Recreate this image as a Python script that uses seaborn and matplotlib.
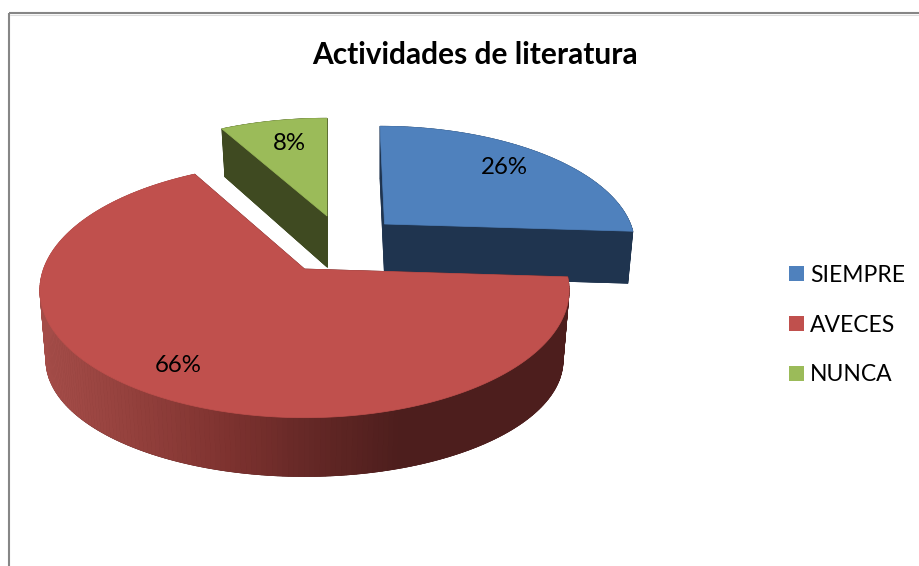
import numpy as np
import seaborn as sns
from matplotlib import pyplot as plt
from matplotlib.patches import Patch

# datos del grafico
categorias = ["SIEMPRE", "AVECES", "NUNCA"]
porcentajes = [26, 66, 8]
titulo = "Actividades de literatura"

colores = ["#4F81BD", "#C0504D", "#9BBB59"]
colores_lado = ["#1F344F", "#4D1E1D", "#3F4A21"]

# geometria de cada porcion en pixeles: vertice, escalas, y plano inferior
# (x0, y0, c, a, sesgo, dy, c_inf, a_inf)
geom = [
  (384.5, 224, 246, 114, -4.5, 52, 241, 114),
  (304.5, 269, 261, 124, 0, 72, 255, 113),
  (327, 216, 250, 114, 0, 51, 243, 118),
]
b = 0.166  # perspectiva
pos_etiquetas = [(504, 167), (178, 365), (289, 143)]

sns.set_theme(style="white")
plt.rcParams["font.family"] = ["Lato", "DejaVu Sans"]

fig = plt.figure(figsize=(9.2, 5.66), dpi=100)
ax = fig.add_axes([0, 0, 1, 1])
ax.set_xlim(0, 920)
ax.set_ylim(566, 0)
ax.axis("off")

# marco gris
ax.plot([9, 9], [566, 13], color="#868686", lw=1.5, solid_capstyle="butt")
ax.plot([9, 920], [13, 13], color="#868686", lw=1.5, solid_capstyle="butt")
ax.plot([10, 920], [15, 15], color="#dcdcdc", lw=0.8)


def proyectar(theta, x0, y0, c, a, sesgo=0):
  X, Y = np.sin(theta), np.cos(theta)
  den = 1 + b * Y
  return x0 + c * X / den + sesgo * Y, y0 - a * Y / den


# angulos de cada porcion, empezando a las 12 en sentido horario
fin = np.cumsum(porcentajes) / 100 * 2 * np.pi
ini = np.r_[0, fin[:-1]]

degradado = sns.blend_palette(["#A44C48", "#93403C", "#7F3330", "#652826", "#4D1E1D"],
                              n_colors=100)

# rojo al final porque tapa la base de las otras dos
for i in [0, 2, 1]:
  x0, y0, c, a, sesgo, dy, c_inf, a_inf = geom[i]
  th = np.linspace(ini[i], fin[i], 240)
  xt, yt = proyectar(th, x0, y0, c, a, sesgo)
  xb, yb = proyectar(th, x0, y0 + dy, c_inf, a_inf, sesgo)
  xb0, yb0 = x0, y0 + dy

  # base y caras de corte
  ax.fill(np.r_[xb0, xb], np.r_[yb0, yb], color=colores_lado[i], lw=0.5)
  for k in [0, -1]:
    ax.fill([x0, xt[k], xb[k], xb0], [y0, yt[k], yb[k], yb0],
            color=colores_lado[i], lw=0.5)

  # pared exterior, en tiras
  for k in range(len(th) - 1):
    if i == 1:
      idx = int(np.clip((xt[k] - 47) / (400 - 47) * 99, 0, 99))
      col = degradado[idx]
    else:
      col = colores_lado[i]
    ax.fill([xt[k], xt[k + 1], xb[k + 1], xb[k]],
            [yt[k], yt[k + 1], yb[k + 1], yb[k]], color=col, lw=0.5)

  # cara superior
  ax.fill(np.r_[x0, xt], np.r_[y0, yt], color=colores[i], lw=0.5)

for v, (px, py) in zip(porcentajes, pos_etiquetas):
  ax.text(px, py, f"{v}%", ha="center", va="center", fontsize=17.3, color="black")

ax.text(474.5, 55.5, titulo, ha="center", va="center", fontsize=21.5,
        fontweight="bold", color="black")

asas = [Patch(facecolor=col, edgecolor="none") for col in colores]
ax.legend(asas, categorias, loc="center left", bbox_to_anchor=(789, 325),
          bbox_transform=ax.transData, frameon=False, fontsize=16.5,
          handlelength=0.65, handleheight=0.65, handletextpad=0.26,
          labelspacing=1.26, borderpad=0, borderaxespad=0, labelcolor="black")

fig.savefig("out.png", dpi=100)
